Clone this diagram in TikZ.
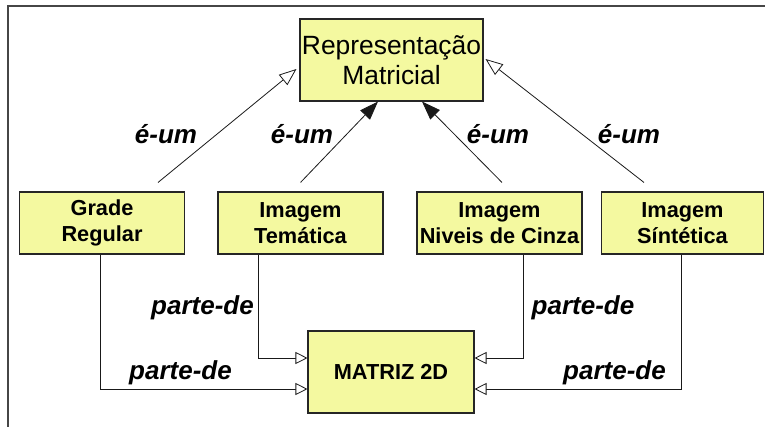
\documentclass[tikz,border=0pt]{standalone}
\usepackage{fontspec}
\setmainfont{Liberation Sans}
\usetikzlibrary{arrows.meta,calc}
\definecolor{boxfill}{RGB}{244,249,160}
\definecolor{framegray}{RGB}{70,70,70}
\tikzset{
  box/.style={draw=black!85, line width=0.8pt, fill=boxfill, align=center, inner sep=0pt},
  midbox/.style={box, minimum width=123.75pt, minimum height=46.5pt, font=\fontsize{16.3}{19.5}\selectfont\bfseries},
  lbl/.style={font=\fontsize{19.5}{20}\selectfont\bfseries\itshape},
  conn/.style={line width=0.6pt, draw=black!90},
  opentip/.style={conn, -{Triangle[open, length=9pt, width=9pt, fill=white]}},
  isaopen/.style={conn, -{Triangle[open, length=13pt, width=10pt, fill=white]}},
  isafill/.style={conn, -{Triangle[length=14pt, width=10pt]}}
}
\begin{document}
\begin{tikzpicture}[x=0.75pt, y=-0.75pt]
\useasboundingbox (0,0) rectangle (765,426);
% frame
\draw[framegray, line width=1.5pt] (8,430) -- (8,6) -- (770,6);
% nodes
\node[box, minimum width=137.25pt, minimum height=61.5pt, font=\fontsize{19.8}{22.5}\selectfont] (top) at (391.5,60) {Representação\\Matricial};
\node[midbox] (grade) at (102,223) {Grade\\Regular};
\node[midbox] (tema) at (300.5,223) {Imagem\\Temática};
\node[midbox] (cinza) at (499.5,223) {Imagem\\Niveis de Cinza};
\node[midbox, minimum width=121.5pt] (sint) at (682.5,223) {Imagem\\Síntética};
\node[box, minimum width=124.5pt, minimum height=61.5pt, font=\fontsize{16.3}{19.5}\selectfont\bfseries] (matriz) at (391,372) {MATRIZ 2D};
% is-a connectors
\draw[isaopen] ($(grade.north)+(56,-9)$) -- ($(top.west)+(-3,9)$);
\draw[isafill] ($(tema.north)+(0,-9)$) -- ($(top.south)+(-13.5,0)$);
\draw[isafill] ($(cinza.north)+(2.5,-9)$) -- ($(top.south)+(30.5,0)$);
\draw[isaopen] ($(sint.north)+(-38.5,-9)$) -- ($(top.east)+(2,-1)$);
% part-of connectors
\draw[opentip] ($(grade.south)+(-2,0)$) |- ($(matriz.west)+(0,17)$);
\draw[opentip] ($(tema.south)+(-42,0)$) |- ($(matriz.west)+(0,-14)$);
\draw[opentip] ($(cinza.south)+(23.5,0)$) |- ($(matriz.east)+(0,-14)$);
\draw[opentip] ($(sint.south)+(-1,0)$) |- ($(matriz.east)+(0,17)$);
% labels
\node[lbl] (l1) at (166,134) {é-um};
\node[lbl] (l2) at (302,134) {é-um};
\node[lbl] (l3) at (498,134) {é-um};
\node[lbl] (l4) at (629,134) {é-um};
\node[lbl] (p1) at (202.5,308) {parte-de};
\node[lbl] (p2) at (583,308) {parte-de};
\node[lbl] (p3) at (180.5,373) {parte-de};
\node[lbl] (p4) at (614.5,373) {parte-de};
\end{tikzpicture}
\end{document}
